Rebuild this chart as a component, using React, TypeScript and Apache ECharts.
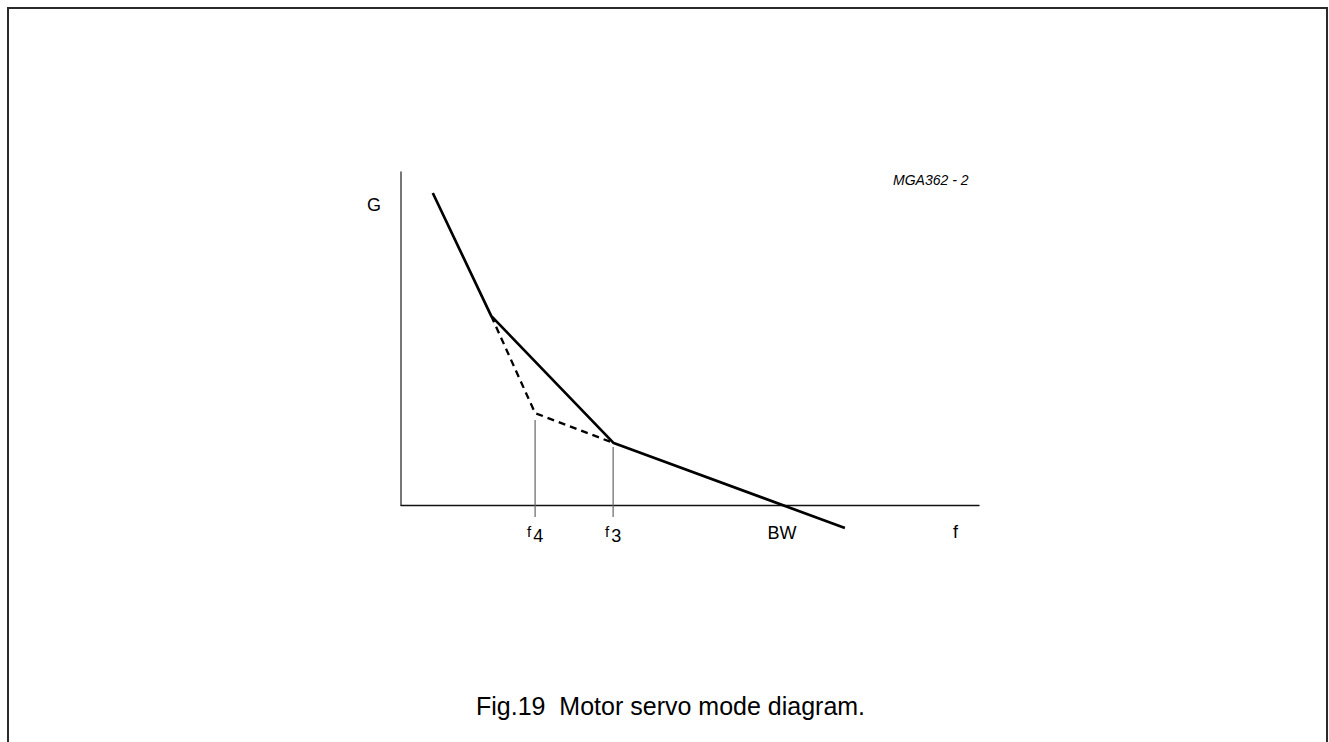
import React, { useEffect, useRef } from "react";
import * as echarts from "echarts";

// Gain curve (solid), breakpoints in normalised axis units (0..100)
const gainCurveX = [5.5, 15.6, 36.8, 76.8];
const gainCurveY = [93.7, 56.8, 18.6, -6.9];
// Alternative (dashed) path via f4
const dashedX = [15.6, 23.2, 36.8];
const dashedY = [56.8, 27.6, 18.6];
// Frequency markers on the f axis
const markerLabels = ["f4", "f3", "BW"];
const markerValues = [23.2, 36.7, 65.9];
const markerTops = [25.5, 17.4, null];
const markerBottom = -3.6;

const FONT = "'Liberation Sans', Arial, Helvetica, sans-serif";

export default function App() {
  const ref = useRef<HTMLDivElement>(null);
  useEffect(() => {
    if (!ref.current) return;
    const chart = echarts.init(ref.current, undefined, { renderer: "svg" });
    const zip = (xs: number[], ys: number[]) => xs.map((x, i) => [x, ys[i]]);
    const markerSeries: any[] = [];
    markerValues.forEach((v, i) => {
      const top = markerTops[i];
      if (top === null) return;
      markerSeries.push({
        type: "line",
        data: [
          [v, top],
          [v, markerBottom],
        ],
        symbol: "none",
        clip: false,
        silent: true,
        lineStyle: { color: "#666", width: 1.2 },
      });
    });
    const labelMap: Record<string, string> = {};
    markerValues.forEach((v, i) => {
      const t = markerLabels[i];
      labelMap[String(v)] = t.length === 2 && t[0] === "f" ? `{f|f}{s|${t[1]}}` : `{n|${t}}`;
    });
    chart.setOption({
      animation: false,
      backgroundColor: "#fff",
      textStyle: { fontFamily: FONT },
      title: {
        text: "Fig.19  Motor servo mode diagram.",
        left: 471,
        top: 688,
        textStyle: { fontFamily: FONT, fontSize: 25, fontWeight: "normal", color: "#000" },
      },
      grid: { left: 401, right: 350, top: 172, bottom: 237, containLabel: false },
      xAxis: {
        type: "value",
        min: 0,
        max: 100,
        splitLine: { show: false },
        axisTick: { show: false },
        axisLine: { show: true, lineStyle: { color: "#111", width: 1.4 } },
        axisLabel: {
          show: true,
          customValues: markerValues,
          margin: 19,
          color: "#000",
          formatter: (v: number) => labelMap[String(v)] ?? "",
          rich: {
            f: { fontSize: 15, fontFamily: FONT, color: "#000", padding: [0, 2, 8, 0] },
            s: { fontSize: 18, fontFamily: FONT, color: "#000" },
            n: { fontSize: 18, fontFamily: FONT, color: "#000" },
          },
        },
      },
      yAxis: {
        type: "value",
        min: 0,
        max: 100,
        splitLine: { show: false },
        axisTick: { show: false },
        axisLabel: { show: false },
        axisLine: { show: true, onZero: false, lineStyle: { color: "#555", width: 1.6 } },
      },
      graphic: [
        {
          type: "polyline",
          shape: {
            points: [
              [8, 742],
              [8, 8],
              [1327, 8],
              [1327, 742],
            ],
          },
          style: { stroke: "#2a2a2a", lineWidth: 2, fill: "none" },
        },
        {
          type: "text",
          left: 367,
          top: 196,
          style: { text: "G", fontSize: 18, fontFamily: FONT, fill: "#000" },
        },
        {
          type: "text",
          left: 953,
          top: 523,
          style: { text: "f", fontSize: 18, fontFamily: FONT, fill: "#000" },
        },
        {
          type: "text",
          left: 893,
          top: 173,
          style: { text: "MGA362 - 2", fontSize: 14, fontStyle: "italic", fontFamily: FONT, fill: "#000" },
        },
      ],
      series: [
        {
          type: "line",
          data: zip(dashedX, dashedY),
          symbol: "none",
          clip: false,
          silent: true,
          lineStyle: { color: "#000", width: 2.3, type: [7, 5] },
        },
        ...markerSeries,
        {
          type: "line",
          data: zip(gainCurveX, gainCurveY),
          symbol: "none",
          clip: false,
          silent: true,
          lineStyle: { color: "#000", width: 2.7 },
        },
      ],
    });
    return () => chart.dispose();
  }, []);
  return (
    <div
      ref={ref}
      style={{ position: "fixed", left: 0, top: 0, width: 1329, height: 742 }}
    />
  );
}
